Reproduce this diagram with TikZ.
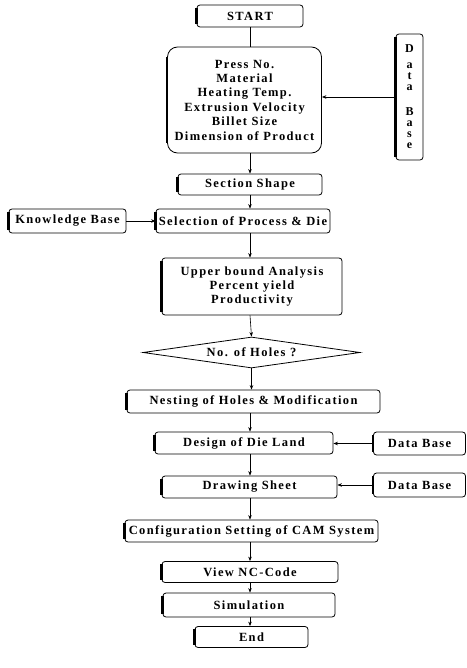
\documentclass[tikz,border=0pt]{standalone}
\usepackage{fontspec}
\setmainfont{Liberation Serif}[LetterSpace=11]
\usetikzlibrary{shapes.geometric,arrows.meta}
\begin{document}
\begin{tikzpicture}[x=1pt,y=-1pt,
  box/.style={draw,line width=0.8pt,rounded corners=3pt,inner sep=0pt,
    font=\fontsize{12.5}{14.4}\selectfont\bfseries,align=center},
  bigbox/.style={box,rounded corners=10pt},
  decision/.style={draw,line width=0.8pt,diamond,inner sep=0pt,shape aspect=7,
    font=\fontsize{12.5}{14.4}\selectfont\bfseries},
  arr/.style={line width=0.6pt,-{Stealth[length=4.5pt,width=3.5pt]}},
  thickleft/.style={line width=2.4pt,line cap=butt}]
\useasboundingbox (0,0) rectangle (466,668);
\coordinate (axis) at (250,0);

\node[box,minimum width=106,minimum height=22] (start) at (250,16) {START};
\node[bigbox,minimum width=154,minimum height=106] (params) at (244.5,100)
  {Press No.\\Material\\Heating Temp.\\Extrusion Velocity\\Billet Size\\Dimension of Product};
\node[box,minimum width=27,minimum height=126,
  font=\fontsize{12}{11}\selectfont\bfseries] (dbv) at (409.5,97)
  {D\\[5pt]a\\t\\a\\[14pt]B\\a\\s\\e};
\node[box,minimum width=144,minimum height=21] (section) at (250,184.5) {Section Shape};
\node[box,minimum width=174,minimum height=24] (select) at (243,221) {Selection of Process \& Die};
\node[box,minimum width=117,minimum height=24] (know) at (67.5,221) {Knowledge Base};
\node[box,minimum width=180,minimum height=57] (upper) at (252,286.5)
  {Upper bound Analysis\\Percent yield\\Productivity};
\node[decision,minimum width=217,minimum height=31] (holes) at (251.5,352.5) {No. of Holes ?};
\node[box,minimum width=253,minimum height=23] (nest) at (253.5,401.5) {Nesting of Holes \& Modification};
\node[box,minimum width=178,minimum height=22] (design) at (244,443) {Design of Die Land};
\node[box,minimum width=92,minimum height=23] (dbone) at (419.5,443.5) {Data Base};
\node[box,minimum width=175,minimum height=22] (sheet) at (249.5,487) {Drawing Sheet};
\node[box,minimum width=92,minimum height=24] (dbtwo) at (419.5,485) {Data Base};
\node[box,minimum width=253,minimum height=22] (config) at (251.5,531) {Configuration Setting of CAM System};
\node[box,minimum width=176,minimum height=21] (view) at (250,572) {View NC-Code};
\node[box,minimum width=172,minimum height=24] (sim) at (249,605) {Simulation};
\node[box,minimum width=113,minimum height=21] (theend) at (251.5,637) {End};

\foreach \n in {start,section,select,know,nest,design,dbone,sheet,dbtwo,config,view,sim,theend,dbv,upper}
  \draw[thickleft] ([yshift=-3pt]\n.north west) -- ([yshift=3pt]\n.south west);
\draw[thickleft] ([yshift=-10pt]params.north west) -- ([yshift=10pt]params.south west);

\draw[line width=0.6pt] (start.south -| axis) -- (params.north -| axis);
\draw[arr] (params.south -| axis) -- (section.north -| axis);
\draw[arr] (section.south -| axis) -- (select.north -| axis);
\draw[arr] (select.south -| axis) -- (upper.north -| axis);
\draw[arr] (upper.south -| axis) -- (holes.north);
\draw[arr] (holes.south) -- (nest.north -| holes.south);
\draw[arr] (nest.south -| axis) -- (design.north -| axis);
\draw[arr] (design.south -| axis) -- (sheet.north -| axis);
\draw[arr] (sheet.south -| axis) -- (config.north -| axis);
\draw[arr] (config.south -| axis) -- (view.north -| axis);
\draw[arr] (view.south -| axis) -- (sim.north -| axis);
\draw[arr] (sim.south -| axis) -- (theend.north -| axis);

\draw[arr] (dbv.west) -- (dbv.west -| params.east);
\draw[arr] (know.east) -- (know.east -| select.west);
\draw[arr] (dbone.west) -- (dbone.west -| design.east);
\draw[arr] (dbtwo.west) -- (dbtwo.west -| sheet.east);
\end{tikzpicture}
\end{document}
